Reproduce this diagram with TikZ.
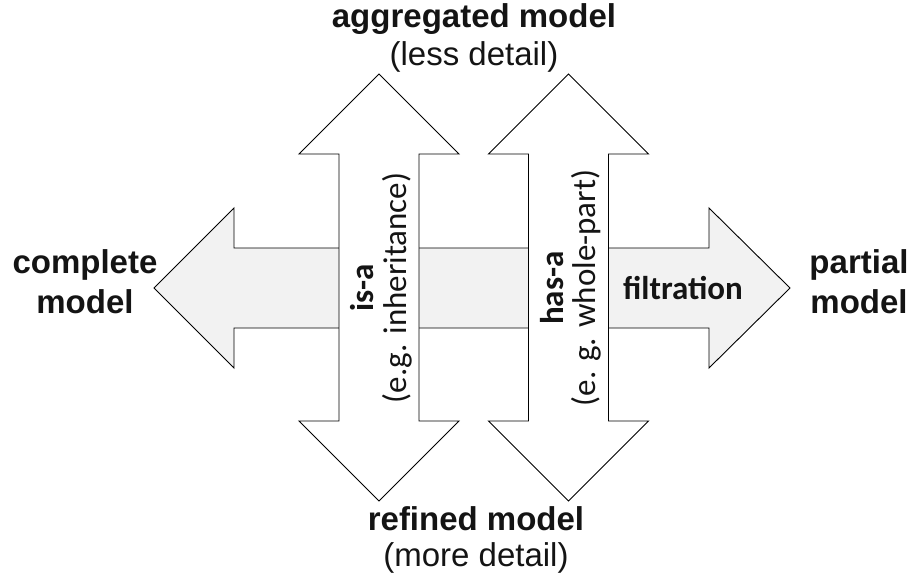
\documentclass[tikz,border=0pt]{standalone}
\usepackage{fontspec}
\setmainfont{Liberation Sans}
\newfontfamily\calfont{Carlito}
\definecolor{bandgray}{RGB}{242,242,242}
\definecolor{inkblack}{RGB}{20,20,20}
\begin{document}
\begin{tikzpicture}[x=1pt,y=-1pt,
  outline/.style={draw=black,line width=0.9pt,line join=miter},
  bigtext/.style={text=inkblack,inner sep=0pt,font=\fontsize{33}{40}\selectfont},
  boldtext/.style={bigtext,font=\fontsize{33}{40}\selectfont\bfseries},
  caltext/.style={bigtext,font=\fontsize{33}{40}\selectfont\calfont},
  calbold/.style={bigtext,font=\fontsize{33}{40}\selectfont\calfont\bfseries}]
\useasboundingbox (0,0) rectangle (909,578);

% horizontal double arrow: complete model <-> partial model
\path[outline,fill=bandgray]
  (154,288) -- (234,208) -- (234,248) -- (709,248) -- (709,208) -- (790,288)
  -- (709,368) -- (709,328) -- (234,328) -- (234,368) -- cycle;

% vertical double arrow: is-a
\path[outline,fill=white]
  (379,74) -- (459,154) -- (419,154) -- (419,421) -- (459,421) -- (379,501)
  -- (299,421) -- (339,421) -- (339,154) -- (299,154) -- cycle;

% vertical double arrow: has-a
\path[outline,fill=white]
  (568.5,74) -- (648.5,154) -- (608.5,154) -- (608.5,421) -- (648.5,421) -- (568.5,501)
  -- (488.5,421) -- (528.5,421) -- (528.5,154) -- (488.5,154) -- cycle;

% end labels
\node[boldtext,anchor=base] (agg) at (474,28) {aggregated model};
\node[bigtext,anchor=base] (aggsub) at (474,66) {(less detail)};
\node[boldtext,anchor=base] (ref) at (476,530) {refined model};
\node[bigtext,anchor=base] (refsub) at (476,566) {(more detail)};
\node[boldtext,anchor=base] (comp) at (85,273) {complete};
\node[boldtext,anchor=base] (compb) at (85,313) {model};
\node[boldtext,anchor=base] (part) at (859,273) {partial};
\node[boldtext,anchor=base] (partb) at (859,313) {model};

% arrow labels
\node[calbold,anchor=base] (filt) at (683,299) {filtration};
\node[calbold,anchor=base,rotate=90] (isa) at (373,288) {is-a};
\node[caltext,anchor=base,rotate=90] (isasub) at (406,288) {(e.g. inheritance)};
\node[calbold,anchor=base,rotate=90] (hasa) at (563,288) {has-a};
\node[caltext,anchor=base,rotate=90] (hasasub) at (595,288) {(e. g. whole-part)};
\end{tikzpicture}
\end{document}
